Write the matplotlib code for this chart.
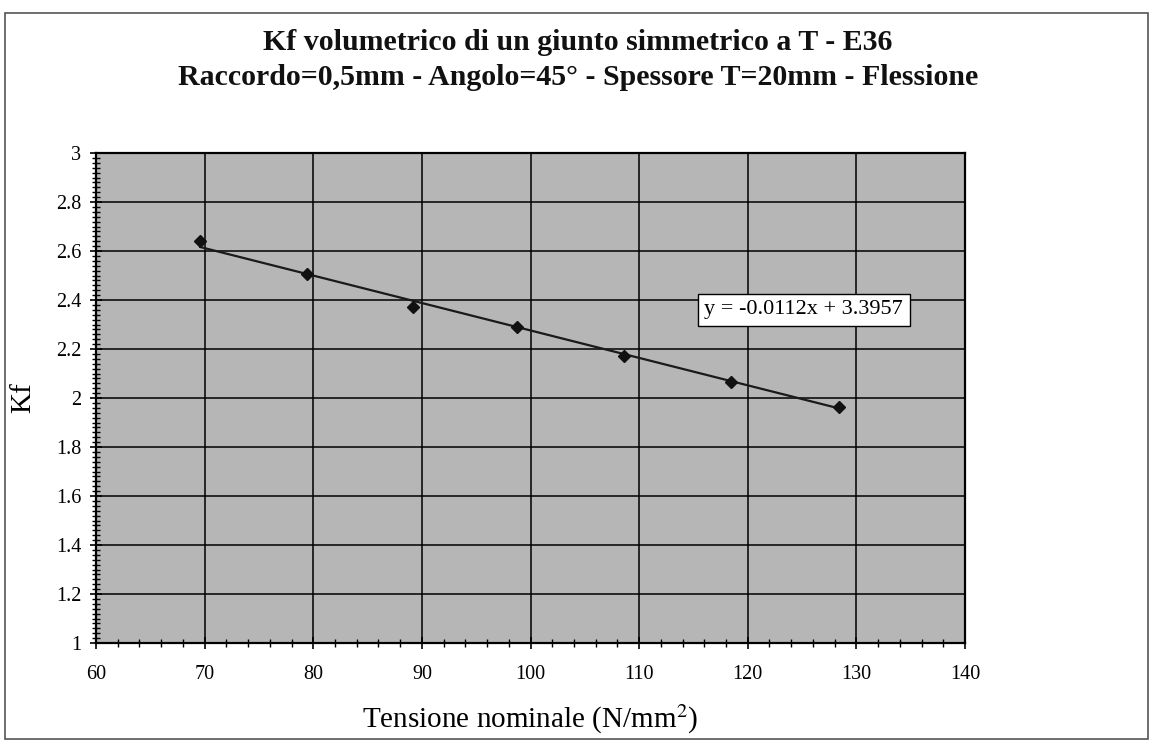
import numpy as np
import matplotlib
matplotlib.use("Agg")
import matplotlib.pyplot as plt
from matplotlib.patches import Rectangle
from matplotlib.ticker import MultipleLocator

plt.rcParams['font.family'] = ['Liberation Serif', 'DejaVu Serif']
plt.rcParams['mathtext.fontset'] = 'stix'

# valori
tensione = [69.6, 79.4, 89.2, 98.8, 108.6, 118.5, 128.4]
kf = [2.64, 2.505, 2.37, 2.29, 2.17, 2.065, 1.965]
pendenza = -0.0112
intercetta = 3.3957

titolo = ("Kf volumetrico di un giunto simmetrico a T - E36\n"
          "Raccordo=0,5mm - Angolo=45° - Spessore T=20mm - Flessione")
etichetta_eq = "y = -0.0112x + 3.3957"

fig = plt.figure(figsize=(11.56, 7.41), dpi=100)
ax = fig.add_axes([96/1156, 1 - 643/741, (965 - 96)/1156, (643 - 153)/741])

ax.set_facecolor('#b6b6b6')
ax.grid(True, which='major', color='black', linewidth=1.1)
ax.set_axisbelow(True)

xt = np.array([min(tensione), max(tensione)])
ax.plot(xt, pendenza*xt + intercetta, color='#1a1a1a', linewidth=1.6, zorder=3)
ax.plot(tensione, kf, linestyle='none', marker='D', markersize=6,
        color='#111111', zorder=4)

ax.set_xlim(60, 140)
ax.set_ylim(1, 3)
ax.xaxis.set_major_locator(MultipleLocator(10))
ax.xaxis.set_minor_locator(MultipleLocator(2))
ax.yaxis.set_major_locator(MultipleLocator(0.2))
ax.yaxis.set_minor_locator(MultipleLocator(0.02))
ax.yaxis.set_major_formatter(plt.FuncFormatter(lambda v, p: f"{v:g}"))
ax.tick_params(which='major', direction='inout', length=9, width=1.2,
               labelsize=14.5, pad=11)
ax.tick_params(which='minor', direction='inout', length=6, width=1.0)
ax.tick_params(axis='y', pad=6)
for s in ax.spines.values():
    s.set_linewidth(1.6)

ax.set_xlabel(r"Tensione nominale (N/mm$^{\mathrm{2}}$)", fontsize=21, labelpad=14)
ax.set_ylabel("Kf", fontsize=21, labelpad=14)

ax.text(116.0, 2.36, etichetta_eq, fontsize=16, ha='left', va='center',
        bbox=dict(boxstyle='square,pad=0.3', facecolor='white',
                  edgecolor='black', linewidth=1.0), zorder=5)

fig.text(0.5, 1 - 60/741, titolo, ha='center', va='center', fontsize=21.5,
         fontweight='bold', linespacing=1.35, color='#111111')

fig.patches.append(Rectangle((5/1156, 2/741), 1143/1156, 726/741,
                             transform=fig.transFigure, fill=False,
                             edgecolor='#555555', linewidth=1.2))

fig.savefig("out.png", dpi=100)
